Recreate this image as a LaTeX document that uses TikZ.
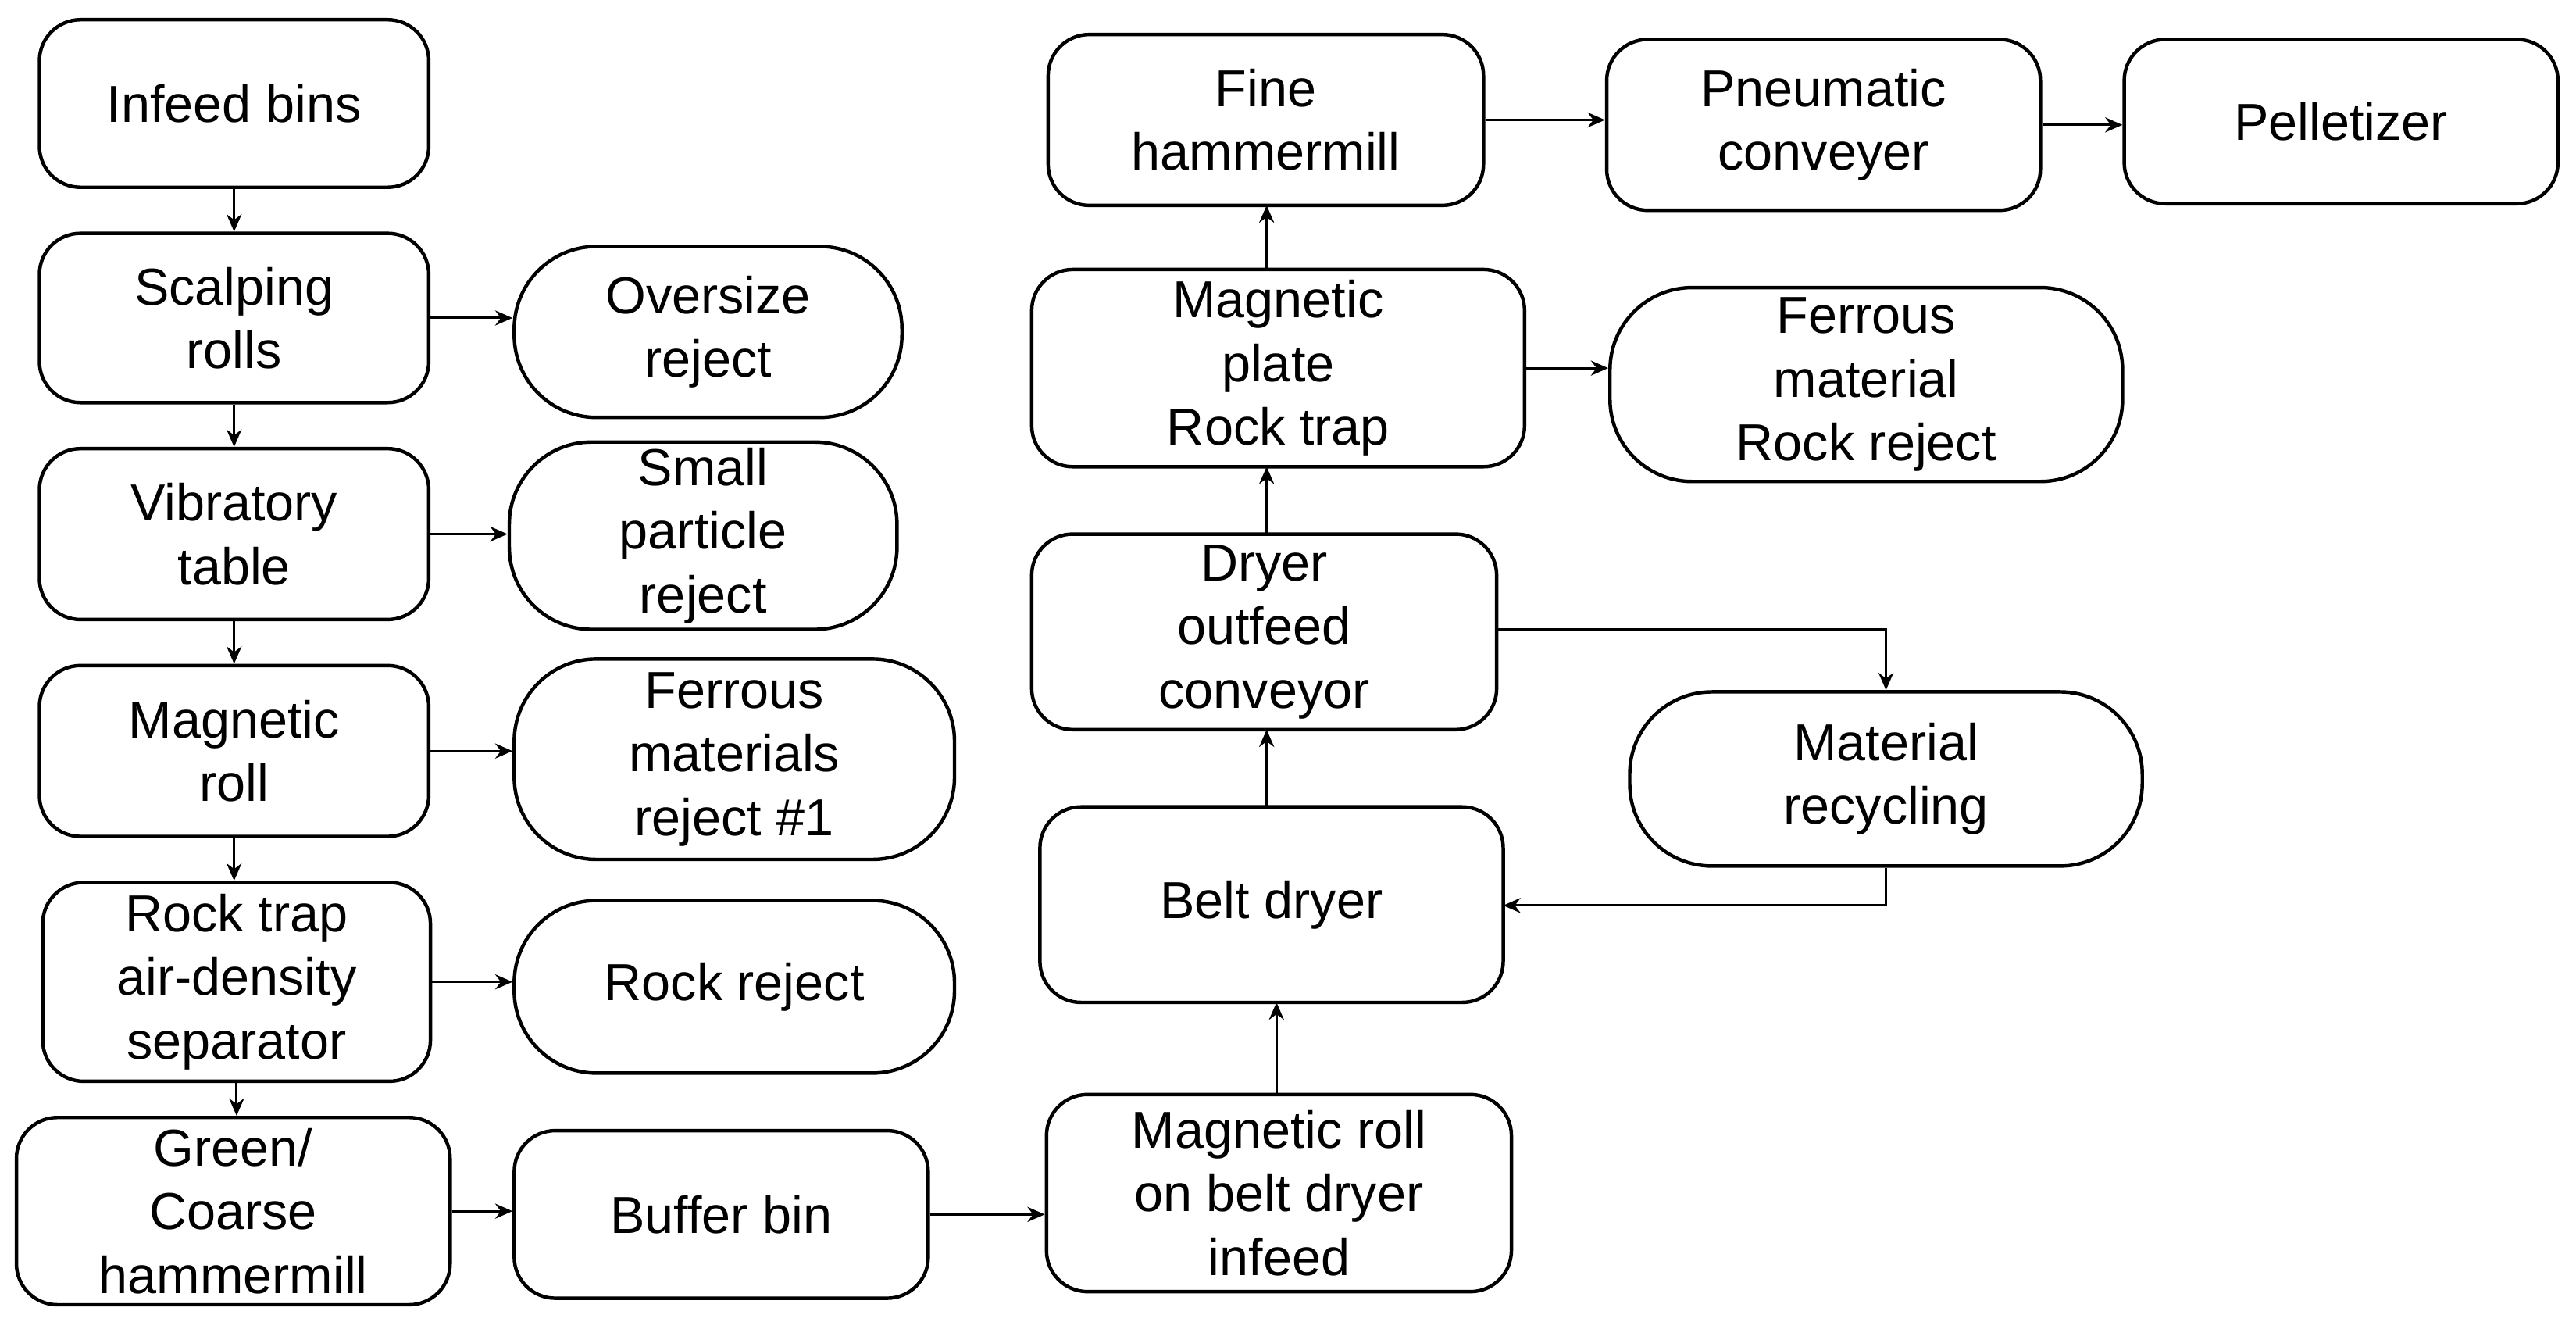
\documentclass[tikz,border=0pt]{standalone}
\usepackage{fontspec}
\setmainfont{Liberation Sans}
\usetikzlibrary{arrows.meta}
\begin{document}
\begin{tikzpicture}[x=0.01cm,y=-0.01cm,
 box/.style={draw,rounded corners=0.25cm,inner sep=0pt,align=center,line width=0.6pt,font=\fontsize{9}{11}\selectfont},
 term/.style={draw,rounded corners=0.5cm,inner sep=0pt,align=center,line width=0.6pt,font=\fontsize{9}{11}\selectfont},
 ar/.style={-{Stealth[length=3pt,width=2.6pt]},line width=0.4pt}]
\useasboundingbox (0,0) rectangle (1568,804);
\newcommand{\bx}[7]{\node[#1,minimum width=#4*0.01cm-#2*0.01cm,minimum height=#5*0.01cm-#3*0.01cm] (#6) at ({(#2+#4)/2},{(#3+#5)/2}) {#7};}
\bx{box}{24}{12}{261}{114}{infeed}{Infeed bins}
\bx{box}{24}{142}{261}{245}{scalp}{Scalping\\rolls}
\bx{term}{313}{150}{549}{254}{over}{Oversize\\reject}
\bx{box}{24}{273}{261}{377}{vib}{Vibratory\\table}
\bx{term}{310}{269}{546}{383}{small}{Small\\particle\\reject}
\bx{box}{24}{405}{261}{509}{magroll}{Magnetic\\roll}
\bx{term}{313}{401}{581}{523}{ferr1}{Ferrous\\materials\\reject \#1}
\bx{box}{26}{537}{262}{658}{rock}{Rock trap\\air-density\\separator}
\bx{term}{313}{548}{581}{653}{rockrej}{Rock reject}
\bx{box}{10}{680}{274}{794}{green}{Green/\\Coarse\\hammermill}
\bx{box}{313}{688}{565}{790}{buffer}{Buffer bin}
\bx{box}{637}{666}{920}{786}{mrbd}{Magnetic roll\\on belt dryer\\infeed}
\bx{box}{633}{491}{915}{610}{belt}{Belt dryer}
\bx{box}{628}{325}{911}{444}{outfeed}{Dryer\\outfeed\\conveyor}
\bx{term}{992}{421}{1304}{527}{recyc}{Material\\recycling}
\bx{box}{628}{164}{928}{284}{plate}{Magnetic\\plate\\Rock trap}
\bx{term}{980}{175}{1292}{293}{ferr2}{Ferrous\\material\\Rock reject}
\bx{box}{638}{21}{903}{125}{fine}{Fine\\hammermill}
\bx{box}{978}{24}{1242}{128}{pneu}{Pneumatic\\conveyer}
\bx{box}{1293}{24}{1557}{124}{pellet}{Pelletizer}
\draw[ar] (infeed.south) -- (infeed.south |- scalp.north);
\draw[ar] (scalp.south) -- (scalp.south |- vib.north);
\draw[ar] (vib.south) -- (vib.south |- magroll.north);
\draw[ar] (magroll.south) -- (magroll.south |- rock.north);
\draw[ar] (rock.south) -- (rock.south |- green.north);
\draw[ar] (scalp.east) -- (scalp.east -| over.west);
\draw[ar] (vib.east) -- (vib.east -| small.west);
\draw[ar] (magroll.east) -- (magroll.east -| ferr1.west);
\draw[ar] (rock.east) -- (rock.east -| rockrej.west);
\draw[ar] (green.east) -- (green.east -| buffer.west);
\draw[ar] (buffer.east) -- (buffer.east -| mrbd.west);
\draw[ar] (777,666) -- (777,610);
\draw[ar] (771,491) -- (771,444);
\draw[ar] (771,325) -- (771,284);
\draw[ar] (771,164) -- (771,125);
\draw[ar] (plate.east) -- (plate.east -| ferr2.west);
\draw[ar] (fine.east) -- (fine.east -| pneu.west);
\draw[ar] (pneu.east) -- (pneu.east -| pellet.west);
\draw[ar] (911,383) -| (recyc.north);
\draw[ar] (recyc.south) |- (915,551);
\end{tikzpicture}
\end{document}
